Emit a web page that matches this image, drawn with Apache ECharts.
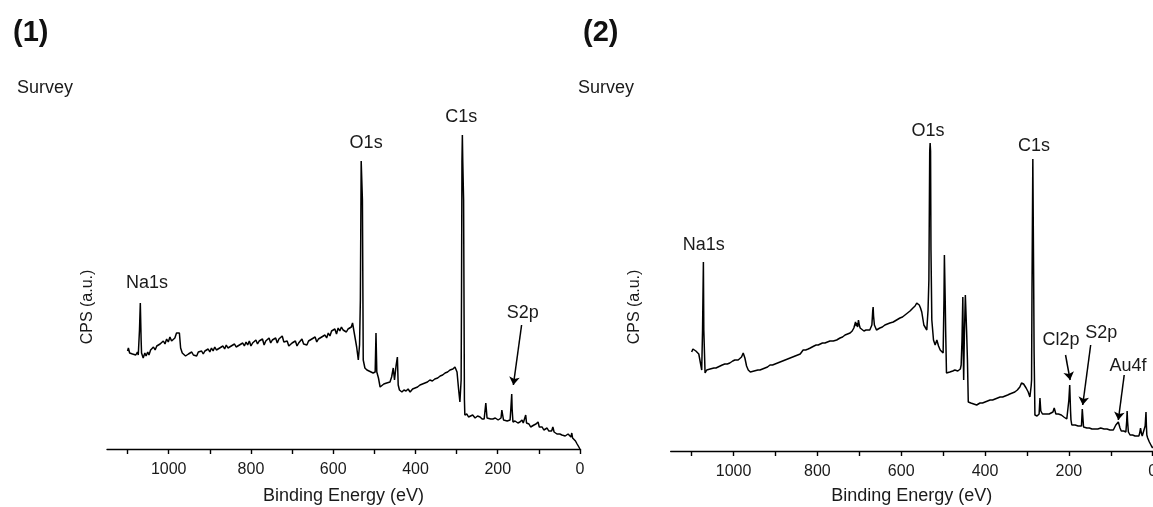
<!DOCTYPE html>
<html>
<head>
<meta charset="utf-8">
<script src="https://cdn.jsdelivr.net/npm/echarts@6/dist/echarts.min.js"></script>
<style>html,body{margin:0;padding:0;background:#fff;overflow:hidden}#c{width:1153px;height:507px}</style>
</head>
<body>
<div id="c"></div>
<script>
// ---- data: [binding energy (eV), intensity (a.u.)] ----
var spectrum1 = [
 [1100,98],[1098,101],[1095,96],[1092,98],[1088,95],[1084,97],[1080,94],[1076,97],[1074,94],[1072,96],[1071,119],[1069,146],[1067,109],[1066,96],[1062,91],
 [1058,96],[1055,93],[1051,97],[1048,94],[1044,99],[1040,97],[1037,102],[1033,99],[1029,103],[1025,101],[1021,105],
 [1017,103],[1013,108],[1009,105],[1005,110],[1001,107],[997,112],[993,108],[989,107],[985,111],[981,116],[977,115],
 [974,116],[971,101],[967,96],[963,98],[959,93],[956,91],[952,95],[948,93],[944,97],[940,94],[936,96],[932,93],
 [928,97],[924,95],[920,98],[916,95],[912,98],[908,96],[904,100],[900,97],[896,101],[892,98],[888,102],[884,99],
 [880,97],[876,101],[872,99],[868,103],[864,100],[860,104],[856,101],[852,99],[848,103],[844,101],[840,105],
 [836,102],[832,100],[828,104],[824,102],[820,106],[816,103],[812,107],[808,104],[804,108],[800,103],[796,106],
 [792,104],[788,109],[784,105],[780,108],[776,106],[772,110],[768,104],[764,108],[760,106],[756,111],[752,106],
 [748,109],[744,107],[740,111],[736,106],[732,110],[728,108],[724,113],[720,107],[716,105],[712,108],[708,103],
 [704,102],[700,106],[696,104],[692,108],[688,103],[684,106],[680,104],[676,110],[672,105],[668,107],[664,104],
 [660,108],[656,106],[652,110],[648,108],[644,112],[640,107],[636,110],[632,108],[628,112],[624,110],[620,114],
 [616,111],[612,116],[608,113],[604,118],[600,116],[596,120],[592,115],[588,121],[584,118],[580,122],[576,119],
 [572,121],[568,117],[564,120],[560,118],[556,122],[553,126],[548,114],[543,102],[539,89],[536,104],[534,149],
 [532,288],[530,288],[529,249],[527,89],[523,81],[518,79],[513,78],[508,77],[503,76],[498,77],[496,116],[494,77],
 [490,71],[486,62],[482,64],[477,65],[470,66],[462,67],[458,72],[454,81],[451,69],[447,84],[444,92],[442,64],
 [439,59],[433,57],[428,59],[423,58],[418,60],[413,57],[407,60],[401,61],[395,62],[389,64],[383,65],[377,66],
 [371,67],[365,69],[359,68],[353,70],[346,71],[340,73],[334,74],[328,76],[322,77],[316,79],[309,80],[304,82],
 [299,77],[295,59],[292,47],[289,69],[288,159],[287,287],[286,314],[285,287],[283,249],[281,49],[280,34],
 [275,35],[271,32],[267,33],[261,34],[255,31],[249,33],[243,32],[238,30],[233,30],[229,46],[226,31],[222,33],
 [217,30],[212,30],[206,31],[199,29],[195,31],[192,31],[190,39],[186,29],[182,30],[177,28],[173,30],[170,29],
 [168,41],[166,55],[165,40],[163,27],[158,28],[154,26],[151,26],[146,27],[141,29],[138,26],[136,25],[132,34],
 [130,26],[128,24],[124,25],[120,22],[117,23],[112,24],[107,25],[102,27],[99,22],[97,21],[92,22],[88,19],[85,20],
 [80,21],[76,18],[73,19],[69,18],[66,22],[63,17],[61,17],[56,15],[52,17],[49,15],[44,14],[40,12],[36,13],
 [32,11],[29,15],[25,13],[22,12],[20,16],[18,11],[15,9],[11,8],[7,5],[3,3],[0,0]
];
var spectrum2 = [
 [1100,99],[1097,102],[1094,101],[1090,100],[1087,99],[1083,97],[1080,95],[1076,81],[1074,121],[1072,189],[1071,121],[1068,78],[1064,81],[1061,80],
 [1056,82],[1052,81],[1047,83],[1042,83],[1037,84],[1033,85],[1027,86],[1021,87],[1015,87],[1009,88],[1002,90],[997,91],
 [993,93],[989,91],[985,92],[981,94],[977,98],[973,93],[969,85],[965,81],[960,79],[956,79],[951,80],[947,80],
 [942,81],[937,81],[931,82],[925,83],[919,84],[913,86],[907,86],[901,87],[895,88],[889,89],[883,90],[877,91],
 [871,92],[865,93],[859,94],[853,95],[847,96],[841,97],[837,99],[834,101],[828,101],[822,102],[817,103],[813,104],
 [808,105],[803,106],[798,106],[794,107],[788,108],[782,108],[776,109],[770,110],[762,110],[754,111],[750,112],
 [746,113],[740,114],[734,116],[728,117],[722,118],[717,120],[713,123],[709,129],[707,125],[706,128],[704,124],
 [702,131],[700,126],[698,123],[694,125],[689,120],[684,121],[680,122],[675,121],[672,122],[670,126],[668,140],
 [667,144],[666,135],[664,126],[659,121],[655,122],[651,123],[645,124],[639,126],[633,127],[627,128],[619,129],
 [611,131],[607,132],[603,133],[597,134],[591,136],[585,138],[579,140],[575,141],[572,143],[567,145],[563,148],
 [560,147],[557,146],[554,143],[551,139],[546,126],[543,124],[539,121],[536,141],[534,171],[532,300],[531,308],
 [530,300],[529,201],[527,131],[523,111],[521,109],[519,106],[517,108],[515,111],[511,105],[507,101],[503,99],
 [500,98],[498,151],[497,196],[496,196],[495,150],[494,121],[492,78],[488,79],[484,79],[480,80],[477,80],[472,81],
 [468,81],[465,80],[462,79],[459,82],[457,86],[455,111],[453,154],[452,100],[451,71],[450,100],[449,121],[447,156],
 [445,156],[444,120],[442,91],[440,49],[437,49],[434,48],[427,47],[420,46],[416,47],[412,48],[406,48],[400,49],
 [394,50],[388,51],[382,51],[376,52],[370,53],[364,54],[358,54],[352,55],[346,56],[341,57],[335,58],[329,59],
 [323,61],[317,64],[313,68],[308,67],[305,65],[302,63],[297,59],[293,54],[290,65],[289,71],[288,161],[286,292],
 [285,292],[284,171],[283,100],[281,36],[278,36],[276,35],[273,36],[271,37],[269,53],[267,40],[266,38],[263,37],
 [261,36],[256,37],[252,36],[247,37],[243,38],[238,39],[235,43],[233,41],[231,37],[229,35],[225,37],[221,38],
 [218,36],[216,36],[212,34],[209,33],[205,32],[202,32],[200,51],[198,66],[197,66],[196,40],[195,31],[193,26],
 [189,26],[185,26],[181,25],[178,25],[174,25],[170,25],[168,42],[167,42],[166,30],[165,24],[161,24],[157,23],
 [151,23],[145,22],[138,22],[131,22],[124,23],[116,22],[109,22],[102,21],[98,22],[94,21],[91,23],[88,26],
 [85,28],[82,29],[80,26],[78,23],[75,20],[73,19],[69,20],[64,19],[62,30],[61,40],[60,30],[58,19],[56,18],
 [54,16],[48,16],[42,15],[38,14],[33,15],[31,18],[29,23],[27,18],[25,15],[23,16],[21,17],[18,25],[16,39],
 [15,25],[14,16],[12,13],[10,11],[8,9],[6,7],[3,5],[0,3]
];
// peak labels: [text, eV, intensity]
var labels1 = [["Na1s",1053,166],["O1s",520,306],["C1s",289,332],["S2p",139,136]];
var labels2 = [["Na1s",1071,206],["O1s",536,320],["C1s",283,305],["Cl2p",219,111],["S2p",123,118],["Au4f",59,85]];
// arrows: [fromEV, fromI, toEV, toI]
var arrows1 = [[142,124,162,64]];
var arrows2 = [[208,96,197,71],[148,106,167,46],[68,76,82,31]];
// axis ticks
var tickValues = [0,100,200,300,400,500,600,700,800,900,1000,1100];
var labelValues = [0,200,400,600,800,1000];
var panelTitles = ["(1)","(2)"];
var subTitle = "Survey";
var xName = "Binding Energy (eV)";
var yName = "CPS (a.u.)";

var FONT = "'Liberation Sans', Arial, sans-serif";
var TXT = '#1a1a1a';

function xAxisFor(i, gap){
  return {
    gridIndex:i, type:'value', inverse:true, min:0, max:1150,
    axisLine:{show:true, onZero:false, lineStyle:{color:'#000', width:1.4}},
    axisTick:{show:true, length:5, inside:false, customValues:tickValues, lineStyle:{color:'#000', width:1.4}},
    axisLabel:{show:true, customValues:labelValues, margin:13, color:TXT, fontSize:16, fontFamily:FONT,
      formatter:function(v){ return String(v); }},
    splitLine:{show:false},
    name:xName, nameLocation:'middle', nameGap:gap,
    nameTextStyle:{color:TXT, fontSize:18, fontFamily:FONT}
  };
}
function yAxisFor(i){
  return {gridIndex:i, type:'value', min:0, max:340, show:true,
    axisLine:{show:false}, axisTick:{show:false}, axisLabel:{show:false}, splitLine:{show:false}};
}
function labelPoints(arr){
  return arr.map(function(l){ return {name:l[0], coord:[l[1], l[2]]}; });
}
function arrowLines(arr){
  return arr.map(function(a){ return [{coord:[a[0],a[1]]},{coord:[a[2],a[3]]}]; });
}
function seriesFor(i, data, labs, arrs){
  return {
    type:'line', xAxisIndex:i, yAxisIndex:i, data:data, showSymbol:false, symbol:'none',
    lineStyle:{color:'#000', width:1.5}, animation:false, silent:true,
    markPoint:{
      symbol:'circle', symbolSize:1, itemStyle:{color:'rgba(0,0,0,0)'}, animation:false,
      label:{show:true, position:'inside', formatter:function(p){return p.name;}, color:TXT, fontSize:18, fontFamily:FONT},
      data:labelPoints(labs)
    },
    markLine:{
      symbol:['none','arrow'], symbolSize:8, animation:false, silent:true,
      lineStyle:{color:'#000', width:1.5, type:'solid'}, label:{show:false},
      data:arrowLines(arrs)
    }
  };
}

var chart = echarts.init(document.getElementById('c'), null, {renderer:'canvas'});
chart.setOption({
  backgroundColor:'#fff',
  animation:false,
  grid:[
    {left:107, right:573, top:109, bottom:58, outerBoundsMode:'none', containLabel:false},
    {left:670.7, right:0.3, top:111, bottom:56, outerBoundsMode:'none', containLabel:false}
  ],
  xAxis:[xAxisFor(0, 38), xAxisFor(1, 36)],
  yAxis:[yAxisFor(0), yAxisFor(1)],
  series:[seriesFor(0, spectrum1, labels1, arrows1), seriesFor(1, spectrum2, labels2, arrows2)],
  graphic:[
    {type:'text', x:13, y:33, style:{text:panelTitles[0], font:'bold 29px '+FONT, fill:'#111', textVerticalAlign:'middle'}},
    {type:'text', x:17, y:88, style:{text:subTitle, font:'18px '+FONT, fill:TXT, textVerticalAlign:'middle'}},
    {type:'text', x:583, y:33, style:{text:panelTitles[1], font:'bold 29px '+FONT, fill:'#111', textVerticalAlign:'middle'}},
    {type:'text', x:578, y:88, style:{text:subTitle, font:'18px '+FONT, fill:TXT, textVerticalAlign:'middle'}},
    {type:'text', x:88, y:307, rotation:Math.PI/2, style:{text:yName, font:'16px '+FONT, fill:TXT, textAlign:'center', textVerticalAlign:'middle'}},
    {type:'text', x:635, y:307, rotation:Math.PI/2, style:{text:yName, font:'16px '+FONT, fill:TXT, textAlign:'center', textVerticalAlign:'middle'}}
  ]
});
</script>
</body>
</html>
